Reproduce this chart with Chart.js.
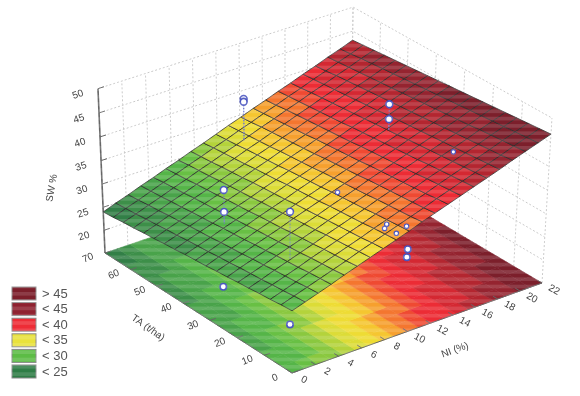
<!DOCTYPE html>
<html>
<head>
<meta charset="utf-8">
<style>
  body { margin: 0; background: #fff; }
  canvas { display: block; filter: blur(0.45px); }
</style>
<script src="https://cdn.jsdelivr.net/npm/chart.js@4/dist/chart.umd.min.js"></script>
</head>
<body>
<canvas id="myChart" width="580" height="396"></canvas>
<script>
// axis ticks
let niTicks = [0, 2, 4, 6, 8, 10, 12, 14, 16, 18, 20, 22];
let taTicks = [0, 10, 20, 30, 40, 50, 60, 70];
let swTicks = [20, 25, 30, 35, 40, 45, 50];

// mesh nodes of the fitted surface
let niGrid = [0, 1.1, 2.2, 3.3, 4.4, 5.5, 6.6, 7.7, 8.8, 9.9, 11, 12.1, 13.2, 14.3, 15.4, 16.5, 17.6, 18.7, 19.8, 20.9, 22];
let taGrid = [0, 3.89, 7.78, 11.67, 15.56, 19.44, 23.33, 27.22, 31.11, 35, 38.89, 42.78, 46.67, 50.56, 54.44, 58.33, 62.22, 66.11, 70];
let swSurface = [
  [28.4,29.3,30.2,31.1,32.1,33.0,33.9,34.8,35.7,36.6,37.6,38.5,39.4,40.3,41.2,42.1,43.0,44.0,44.9,45.8,46.7],
  [28.2,29.1,30.0,30.9,31.8,32.7,33.7,34.6,35.5,36.4,37.3,38.2,39.2,40.1,41.0,41.9,42.8,43.7,44.7,45.6,46.5],
  [27.9,28.8,29.7,30.7,31.6,32.5,33.4,34.3,35.3,36.2,37.1,38.0,38.9,39.9,40.8,41.7,42.6,43.5,44.5,45.4,46.3],
  [27.7,28.6,29.5,30.4,31.4,32.3,33.2,34.1,35.0,36.0,36.9,37.8,38.7,39.7,40.6,41.5,42.4,43.3,44.3,45.2,46.1],
  [27.4,28.3,29.3,30.2,31.1,32.0,33.0,33.9,34.8,35.7,36.7,37.6,38.5,39.4,40.4,41.3,42.2,43.1,44.1,45.0,45.9],
  [27.2,28.1,29.0,30.0,30.9,31.8,32.7,33.7,34.6,35.5,36.4,37.4,38.3,39.2,40.1,41.1,42.0,42.9,43.8,44.8,45.7],
  [26.9,27.9,28.8,29.7,30.6,31.6,32.5,33.4,34.4,35.3,36.2,37.2,38.1,39.0,39.9,40.9,41.8,42.7,43.6,44.6,45.5],
  [26.7,27.6,28.5,29.5,30.4,31.3,32.3,33.2,34.1,35.1,36.0,36.9,37.9,38.8,39.7,40.7,41.6,42.5,43.4,44.4,45.3],
  [26.4,27.4,28.3,29.2,30.2,31.1,32.0,33.0,33.9,34.8,35.8,36.7,37.6,38.6,39.5,40.4,41.4,42.3,43.2,44.2,45.1],
  [26.2,27.1,28.1,29.0,29.9,30.9,31.8,32.7,33.7,34.6,35.6,36.5,37.4,38.4,39.3,40.2,41.2,42.1,43.0,44.0,44.9],
  [26.0,26.9,27.8,28.8,29.7,30.6,31.6,32.5,33.5,34.4,35.3,36.3,37.2,38.1,39.1,40.0,41.0,41.9,42.8,43.8,44.7],
  [25.7,26.7,27.6,28.5,29.5,30.4,31.3,32.3,33.2,34.2,35.1,36.0,37.0,37.9,38.9,39.8,40.7,41.7,42.6,43.6,44.5],
  [25.5,26.4,27.4,28.3,29.2,30.2,31.1,32.1,33.0,33.9,34.9,35.8,36.8,37.7,38.6,39.6,40.5,41.5,42.4,43.4,44.3],
  [25.2,26.2,27.1,28.1,29.0,29.9,30.9,31.8,32.8,33.7,34.7,35.6,36.5,37.5,38.4,39.4,40.3,41.3,42.2,43.2,44.1],
  [25.0,25.9,26.9,27.8,28.8,29.7,30.7,31.6,32.5,33.5,34.4,35.4,36.3,37.3,38.2,39.2,40.1,41.1,42.0,43.0,43.9],
  [24.7,25.7,26.6,27.6,28.5,29.5,30.4,31.4,32.3,33.3,34.2,35.2,36.1,37.1,38.0,39.0,39.9,40.9,41.8,42.8,43.7],
  [24.5,25.4,26.4,27.3,28.3,29.2,30.2,31.1,32.1,33.0,34.0,35.0,35.9,36.9,37.8,38.8,39.7,40.7,41.6,42.6,43.5],
  [24.2,25.2,26.1,27.1,28.1,29.0,30.0,30.9,31.9,32.8,33.8,34.7,35.7,36.6,37.6,38.5,39.5,40.4,41.4,42.3,43.3],
  [24.0,25.0,25.9,26.9,27.8,28.8,29.7,30.7,31.6,32.6,33.6,34.5,35.5,36.4,37.4,38.3,39.3,40.2,41.2,42.1,43.1]
];

// observed points that show above the surface, with the surface height under them
let obsNi = [10.5, 10.5, 16.7, 16.7, 4, 4, 4.1];
let obsTa = [62, 62, 35, 35, 41.6, 41.6, 18];
let obsSw = [42.3, 41.7, 45.3, 42.2, 35.4, 30.75, 39.1];
let obsFoot = [33.4, 33.4, 40, 40, 28.2, 28.2, 29];

// points that barely break through the surface
let nearNi = [10, 9.5, 10.9, 9.7, 10.4, 17.3];
let nearTa = [8.2, 6.9, 4.9, 3.6, 27.3, 14.7];
let nearSw = [35, 35, 35, 35, 34.6, 41.8];

// points seen under the surface, on the floor
let floorNi = [3.7, 4.1, 16.8, 17.6];
let floorTa = [41, 18, 27.8, 30.7];

let legendLabels = ["> 45", "< 45", "< 40", "< 35", "< 30", "< 25"];
let legendColors = ["#7c1f2b", "#8f2230", "#ee2c36", "#e9e23c", "#5cbc45", "#2f7d46"];

let bandTops = [25, 26.5, 28, 29.5, 30.5, 31.5, 32.5, 33.5, 34.5, 35.5, 36.5, 37.5, 38.5, 40, 41.5, 43, 44.5];
let bandColors = ["#327f47", "#3d8f49", "#49a34a", "#55b548", "#68c044", "#8ac83f", "#b4d33b", "#dcdc37", "#eedc34",
  "#f5c630", "#f6a02e", "#f4762f", "#ef4a32", "#ec2c35", "#d42832", "#b32630", "#952430", "#7c1f2b"];

const NI_MAX = 22, TA_MAX = 70, SW_MIN = 15, SW_MAX = 50;

// perspective of the box, fitted on its corners
function project(ni, ta, sw) {
  let u = ni / NI_MAX, v = ta / TA_MAX, w = (sw - SW_MIN) / (SW_MAX - SW_MIN);
  let d = 1 + 0.03 * u + 0.041 * v - 0.0387 * w;
  return {
    x: (292 + 266.26 * u - 182.69 * v - 11.1 * w) / d,
    y: (373 - 81.51 * u - 109.63 * v - 174.5 * w) / d
  };
}

function bandColor(z) {
  for (let i = 0; i < bandTops.length; i++) {
    if (z < bandTops[i]) return bandColors[i];
  }
  return bandColors[bandColors.length - 1];
}

let layers = [];

function addLine(points, color, width, dash) {
  layers.push({
    data: points, showLine: true, fill: false, borderColor: color, borderWidth: width,
    borderDash: dash || [], pointRadius: 0, tension: 0
  });
}

function addCell(points, color, edge) {
  layers.push({
    data: points.concat([points[0]]), showLine: true, fill: "shape", backgroundColor: color,
    borderColor: edge || color, borderWidth: edge ? 1 : 0.6, pointRadius: 0, tension: 0
  });
}

function addPoints(points, radius, stroke) {
  layers.push({
    data: points, showLine: false, pointRadius: radius, pointBackgroundColor: "#fff",
    pointBorderColor: "#4a55c0", pointBorderWidth: stroke
  });
}

function cellPoints(i, j, flat) {
  let p = [[i, j], [i + 1, j], [i + 1, j + 1], [i, j + 1]];
  return p.map((c) => project(niGrid[c[0]], taGrid[c[1]], flat ? SW_MIN : swSurface[c[1]][c[0]]));
}

function cellMean(i, j) {
  return (swSurface[j][i] + swSurface[j][i + 1] + swSurface[j + 1][i] + swSurface[j + 1][i + 1]) / 4;
}

// back walls
let gridColor = "#c9c9c9";
swTicks.concat([SW_MIN]).forEach((z) => {
  addLine([project(0, TA_MAX, z), project(NI_MAX, TA_MAX, z), project(NI_MAX, 0, z)], gridColor, 1, [2, 2]);
});
niTicks.forEach((n) => addLine([project(n, TA_MAX, SW_MIN), project(n, TA_MAX, SW_MAX)], gridColor, 1, [2, 2]));
taTicks.forEach((t) => addLine([project(NI_MAX, t, SW_MIN), project(NI_MAX, t, SW_MAX)], gridColor, 1, [2, 2]));

// floor, coloured by the surface height
for (let j = 0; j < taGrid.length - 1; j++) {
  for (let i = 0; i < niGrid.length - 1; i++) {
    addCell(cellPoints(i, j, true), bandColor(cellMean(i, j)));
  }
}

// axes and ticks
let axisColor = "#666";
addLine([project(0, TA_MAX, SW_MIN), project(0, 0, SW_MIN), project(NI_MAX, 0, SW_MIN)], axisColor, 1);
addLine([project(0, TA_MAX, SW_MIN), project(0, TA_MAX, SW_MAX)], axisColor, 1.6);
niTicks.forEach((n) => addLine([project(n, 0, SW_MIN), project(n, 1.6, SW_MIN)], axisColor, 1));
taTicks.forEach((t) => addLine([project(0, t, SW_MIN), project(0.5, t, SW_MIN)], axisColor, 1));
swTicks.forEach((z) => addLine([project(0, TA_MAX, z), project(0.5, TA_MAX, z)], axisColor, 1));

addPoints(floorNi.map((n, k) => project(n, floorTa[k], SW_MIN)), 3.2, 1.6);

// surface with its mesh
for (let j = taGrid.length - 2; j >= 0; j--) {
  for (let i = 0; i < niGrid.length - 1; i++) {
    addCell(cellPoints(i, j, false), bandColor(cellMean(i, j)), "rgba(45,45,45,0.78)");
  }
}

// residual stems and the points
obsNi.forEach((n, k) => {
  addLine([project(n, obsTa[k], obsSw[k]), project(n, obsTa[k], obsFoot[k])], "#6f78cf", 1, [1.5, 1.5]);
});
addPoints(nearNi.map((n, k) => project(n, nearTa[k], nearSw[k])), 2.2, 1.2);
addPoints(obsNi.map((n, k) => project(n, obsTa[k], obsSw[k])), 3.4, 1.6);

function drawText(ctx, text, x, y, angle, font, color) {
  ctx.save();
  ctx.translate(x, y);
  ctx.rotate(angle * Math.PI / 180);
  ctx.font = font;
  ctx.fillStyle = color;
  ctx.textAlign = "center";
  ctx.textBaseline = "middle";
  ctx.fillText(text, 0, 0);
  ctx.restore();
}

let texts3d = {
  id: "texts3d",
  afterDatasetsDraw(chart) {
    let ctx = chart.ctx, sx = chart.scales.x, sy = chart.scales.y;
    let px = (p) => ({ x: sx.getPixelForValue(p.x), y: sy.getPixelForValue(p.y) });

    // legend boxes
    legendLabels.forEach((t, k) => {
      let top = 287 + k * 15.6;
      ctx.fillStyle = legendColors[k];
      ctx.fillRect(12, top, 24, 13);
      ctx.strokeStyle = "#8a8a8a";
      ctx.lineWidth = 1;
      ctx.strokeRect(12, top, 24, 13);
    });

    // the light scan bands that run over all coloured parts
    ctx.save();
    ctx.globalCompositeOperation = "source-atop";
    ctx.fillStyle = "rgba(255,255,255,0.13)";
    for (let y = 0; y < 396; y += 7.3) {
      ctx.fillRect(0, y, 580, 3.6);
    }
    ctx.restore();

    let font = '10px "Liberation Sans", sans-serif', color = "#444";
    swTicks.forEach((z) => {
      let p = px(project(0, TA_MAX, z));
      drawText(ctx, String(z), p.x - 20, p.y + 6, -18, font, color);
    });
    taTicks.forEach((t) => {
      let p = px(project(0, t, SW_MIN));
      drawText(ctx, String(t), p.x - 17, p.y + 5, -22, font, color);
    });
    niTicks.forEach((n) => {
      let p = px(project(n, 0, SW_MIN));
      drawText(ctx, String(n), p.x + 12, p.y + 7, 28, font, color);
    });
    drawText(ctx, "SW %", 52, 188, -80, font, color);
    drawText(ctx, "TA (t/ha)", 148, 328, 35, font, color);
    drawText(ctx, "NI (%)", 455, 350, -20, font, color);

    ctx.save();
    ctx.font = '13px "Liberation Sans", sans-serif';
    ctx.fillStyle = "#555";
    ctx.textBaseline = "middle";
    legendLabels.forEach((t, k) => ctx.fillText(t, 42, 294 + k * 15.6));
    ctx.restore();
  }
};

let ctx = document.getElementById("myChart").getContext("2d");
let myChart = new Chart(ctx, {
  type: "scatter",
  data: { datasets: layers.reverse() },
  options: {
    responsive: false,
    animation: false,
    events: [],
    layout: { padding: 0, autoPadding: false },
    plugins: { legend: { display: false }, tooltip: { enabled: false } },
    scales: {
      x: { type: "linear", min: 0, max: 580, display: false },
      y: { type: "linear", min: 0, max: 396, reverse: true, display: false }
    }
  },
  plugins: [texts3d]
});
</script>
</body>
</html>
